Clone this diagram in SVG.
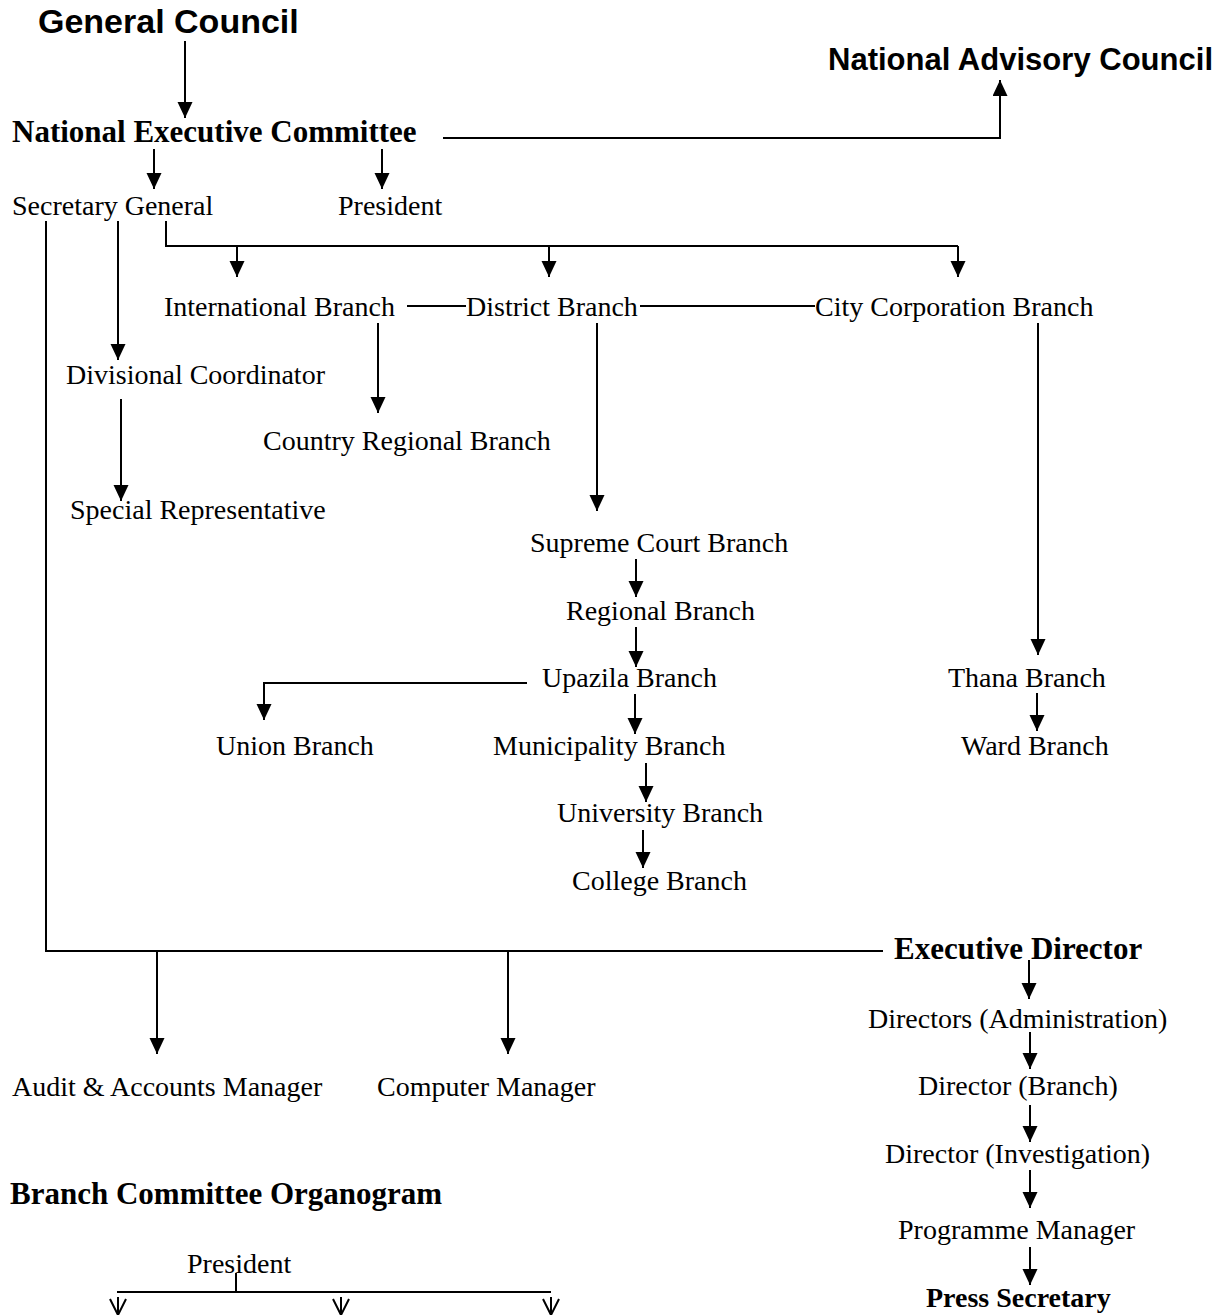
<svg xmlns="http://www.w3.org/2000/svg" width="1227" height="1315" viewBox="0 0 1227 1315">
<style>
.t{font-family:"Liberation Serif","Times New Roman",serif;font-size:28px;fill:#000}
.tb{font-family:"Liberation Serif","Times New Roman",serif;font-size:31px;font-weight:bold;fill:#000}
.tb2{font-family:"Liberation Serif","Times New Roman",serif;font-size:28px;font-weight:bold;fill:#000}
.s{font-family:"Liberation Sans",Arial,sans-serif;font-size:31px;font-weight:bold;fill:#000}
.s34{font-size:34px}
.c{fill:none;stroke:#000;stroke-width:2}
.a{fill:none;stroke:#000;stroke-width:2;marker-end:url(#ah)}
</style>
<defs>
<marker id="ah" markerUnits="userSpaceOnUse" markerWidth="16" markerHeight="16" refX="16" refY="7.5" orient="auto">
<path d="M0,0 L16,7.5 L0,15 z" fill="#000"/>
</marker>
</defs>
<rect width="1227" height="1315" fill="#fff"/>
<g id="connectors">
<path class="a" d="M185,41 V118"/>
<path class="a" d="M443,138 H1000 V80"/>
<path class="a" d="M154,149 V189"/>
<path class="a" d="M382,149 V189"/>
<path class="c" d="M46,221 V951 H883"/>
<path class="a" d="M157,951 V1054"/>
<path class="a" d="M508,951 V1054"/>
<path class="a" d="M118,221 V360"/>
<path class="c" d="M166,221 V246 H958"/>
<path class="a" d="M237,246 V277"/>
<path class="a" d="M549,246 V277"/>
<path class="a" d="M958,246 V277"/>
<path class="c" d="M407,306 H466"/>
<path class="c" d="M640,306 H815"/>
<path class="a" d="M378,323 V413"/>
<path class="a" d="M121,399 V501"/>
<path class="a" d="M597,323 V511"/>
<path class="a" d="M1038,323 V655"/>
<path class="a" d="M1037,693 V731"/>
<path class="a" d="M636,559 V597"/>
<path class="a" d="M636,627 V667"/>
<path class="a" d="M527,683 H264 V720"/>
<path class="a" d="M635,694 V734"/>
<path class="a" d="M646,763 V802"/>
<path class="a" d="M643,830 V868"/>
<path class="a" d="M1029,960 V999"/>
<path class="a" d="M1030,1032 V1069"/>
<path class="a" d="M1030,1105 V1142"/>
<path class="a" d="M1030,1170 V1208"/>
<path class="a" d="M1030,1247 V1285"/>
<path class="c" d="M236,1273 V1292"/>
<path class="c" d="M117,1292 H551"/>
<path class="c" d="M118,1297 V1315 M110,1299 L118,1315 L126,1299"/>
<path class="c" d="M341,1297 V1315 M333,1299 L341,1315 L349,1299"/>
<path class="c" d="M551,1297 V1315 M543,1299 L551,1315 L559,1299"/>
</g>
<g id="n-general-council"><text class="s s34" x="38" y="33">General Council</text></g>
<g id="n-national-advisory-council"><text class="s" x="828" y="70" textLength="385">National Advisory Council</text></g>
<g id="n-nec"><text class="tb" x="12" y="142">National Executive Committee</text></g>
<g id="n-secretary-general"><text class="t" x="12" y="215">Secretary General</text></g>
<g id="n-president"><text class="t" x="338" y="215">President</text></g>
<g id="n-international"><text class="t" x="164" y="316">International Branch</text></g>
<g id="n-district"><text class="t" x="466" y="316">District Branch</text></g>
<g id="n-city"><text class="t" x="815" y="316">City Corporation Branch</text></g>
<g id="n-divisional"><text class="t" x="66" y="384">Divisional Coordinator</text></g>
<g id="n-country-regional"><text class="t" x="263" y="450">Country Regional Branch</text></g>
<g id="n-special"><text class="t" x="70" y="519">Special Representative</text></g>
<g id="n-supreme"><text class="t" x="530" y="552">Supreme Court Branch</text></g>
<g id="n-regional"><text class="t" x="566" y="620">Regional Branch</text></g>
<g id="n-upazila"><text class="t" x="542" y="687">Upazila Branch</text></g>
<g id="n-thana"><text class="t" x="948" y="687">Thana Branch</text></g>
<g id="n-union"><text class="t" x="216" y="755">Union Branch</text></g>
<g id="n-municipality"><text class="t" x="493" y="755">Municipality Branch</text></g>
<g id="n-ward"><text class="t" x="961" y="755">Ward Branch</text></g>
<g id="n-university"><text class="t" x="557" y="822">University Branch</text></g>
<g id="n-college"><text class="t" x="572" y="890">College Branch</text></g>
<g id="n-executive-director"><text class="tb" x="894" y="959">Executive Director</text></g>
<g id="n-directors-admin"><text class="t" x="868" y="1028">Directors (Administration)</text></g>
<g id="n-director-branch"><text class="t" x="918" y="1095">Director (Branch)</text></g>
<g id="n-director-investigation"><text class="t" x="885" y="1163">Director (Investigation)</text></g>
<g id="n-programme-manager"><text class="t" x="898" y="1239">Programme Manager</text></g>
<g id="n-press-secretary"><text class="tb2" x="926" y="1307">Press Secretary</text></g>
<g id="n-audit"><text class="t" x="12" y="1096">Audit &amp; Accounts Manager</text></g>
<g id="n-computer"><text class="t" x="377" y="1096">Computer Manager</text></g>
<g id="n-branch-title"><text class="tb" x="10" y="1204">Branch Committee Organogram</text></g>
<g id="n-branch-president"><text class="t" x="187" y="1273">President</text></g>
</svg>
